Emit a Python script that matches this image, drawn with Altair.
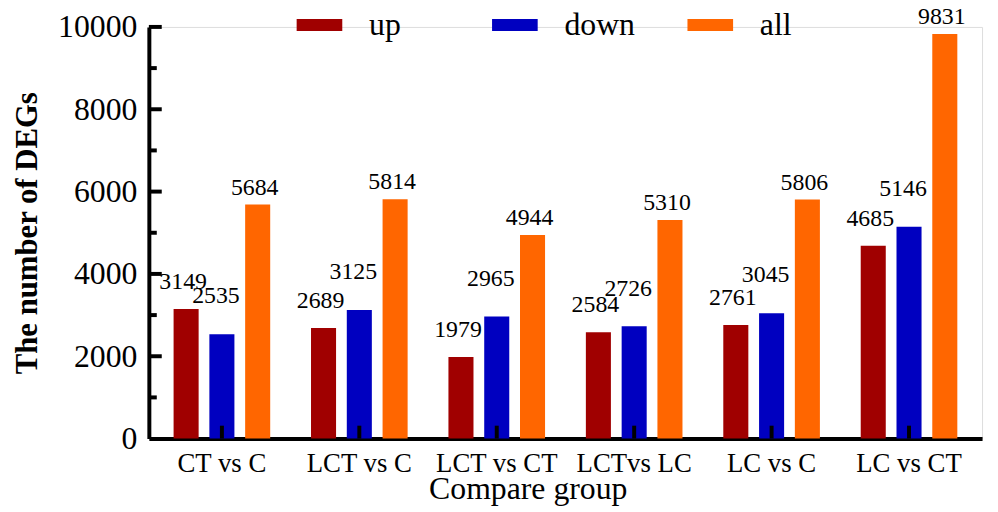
import altair as alt
import pandas as pd

groups = ["CT vs C", "LCT vs C", "LCT vs CT", "LCTvs LC", "LC vs C", "LC vs CT"]
series = ["up", "down", "all"]
up_vals = [3149, 2689, 1979, 2584, 2761, 4685]
down_vals = [2535, 3125, 2965, 2726, 3045, 5146]
all_vals = [5684, 5814, 4944, 5310, 5806, 9831]
colors = ["#A00000", "#0000C0", "#FF6600"]
major_ticks = [2000, 4000, 6000, 8000, 10000]
minor_ticks = [1000, 3000, 5000, 7000, 9000]

rows = []
for name, vals in zip(series, [up_vals, down_vals, all_vals]):
    for g, v in zip(groups, vals):
        rows.append({"group": g, "series": name, "value": v})
df = pd.DataFrame(rows)

FONT = "Liberation Serif"
W, H = 840, 415

xscale = alt.Scale(domain=groups, paddingInner=0.297, paddingOuter=0.18)
yscale = alt.Scale(domain=[0, 10000], nice=False)
offscale = alt.Scale(domain=series, paddingInner=0.3, paddingOuter=0)

x_enc = alt.X(
    "group:N",
    scale=xscale,
    sort=groups,
    axis=alt.Axis(
        title="Compare group",
        labelFont=FONT, labelFontSize=27, labelColor="black",
        labelAngle=0, labelBaseline="alphabetic", labelPadding=33,
        ticks=False, tickSize=0,
        domainColor="black", domainWidth=4,
        titleFont=FONT, titleFontSize=32, titleFontWeight="normal", titleColor="black",
        titleX=382, titleY=60, titleBaseline="alphabetic", titleAlign="center",
    ),
)
y_enc = alt.Y(
    "value:Q",
    scale=yscale,
    axis=alt.Axis(
        title="The number of DEGs",
        values=[0, 2000, 4000, 6000, 8000, 10000],
        format="d",
        labelFont=FONT, labelFontSize=32, labelColor="black", labelPadding=12,
        ticks=False, tickSize=0, grid=False,
        domainColor="black", domainWidth=4,
        titleFont=FONT, titleFontSize=31, titleFontWeight="bold", titleColor="black",
        titlePadding=14,
    ),
)

bars = alt.Chart(df).mark_bar().encode(
    x=x_enc,
    xOffset=alt.XOffset("series:N", scale=offscale, sort=series),
    y=y_enc,
    color=alt.Color(
        "series:N",
        scale=alt.Scale(domain=series, range=colors),
        sort=series,
        legend=alt.Legend(
            title=None, orient="none", direction="horizontal", columns=3,
            legendX=149, legendY=-25, padding=0, gridAlign="all",
            symbolType="M-1,-0.26L1,-0.26L1,0.26L-1,0.26Z", symbolSize=2116,
            symbolStrokeWidth=0, symbolOpacity=1,
            labelFont=FONT, labelFontSize=32, labelColor="black", labelOffset=27,
            columnPadding=52,
        ),
    ),
)

def labels(name, dx, dy):
    return alt.Chart(df).transform_filter(alt.datum.series == name).mark_text(
        font=FONT, fontSize=24, color="black", baseline="alphabetic", dx=dx, dy=dy
    ).encode(
        x=alt.X("group:N", scale=xscale, sort=groups),
        xOffset=alt.XOffset("series:N", scale=offscale, sort=series),
        y=alt.Y("value:Q", scale=yscale),
        text=alt.Text("value:Q", format="d"),
    )

text_up = labels("up", -3, -20)
text_down = labels("down", -6, -31)
text_all = labels("all", -3, -10)

major = alt.Chart(pd.DataFrame({"v": major_ticks})).mark_rule(
    color="black", strokeWidth=4
).encode(y=alt.Y("v:Q", scale=yscale), x=alt.value(0), x2=alt.value(13))

minor = alt.Chart(pd.DataFrame({"v": minor_ticks})).mark_rule(
    color="black", strokeWidth=4
).encode(y=alt.Y("v:Q", scale=yscale), x=alt.value(0), x2=alt.value(8))

xticks = alt.Chart(pd.DataFrame({"group": groups})).mark_rule(
    color="black", strokeWidth=4
).encode(
    x=alt.X("group:N", scale=xscale, sort=groups),
    y=alt.value(H),
    y2=alt.value(H - 13),
)

chart = alt.layer(bars, text_up, text_down, text_all, major, minor, xticks).properties(
    width=W, height=H,
    autosize=alt.AutoSizeParams(type="none"),
    padding={"left": 142, "top": 17, "right": 8, "bottom": 80},
).configure_view(stroke=None).configure(background="white")

chart.save("out.html", embed_options={"renderer": "svg", "actions": False})
